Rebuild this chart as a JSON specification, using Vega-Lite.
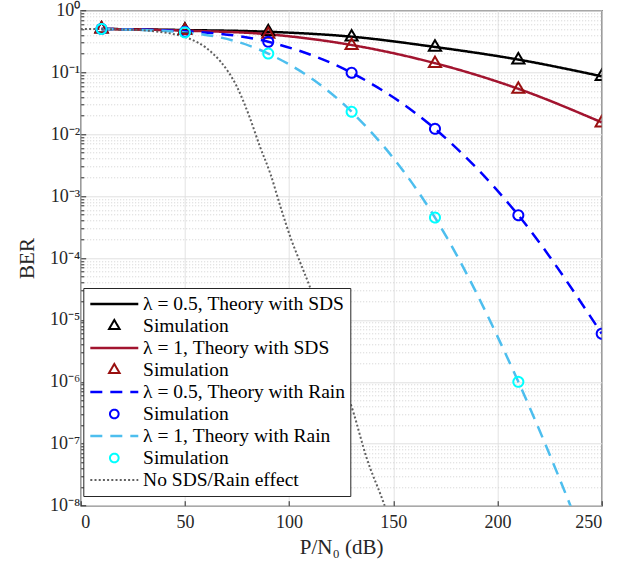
{
  "$schema": "https://vega.github.io/schema/vega-lite/v6.json",
  "width": 521,
  "height": 495.4,
  "autosize": {"type": "none"},
  "padding": {"left": 80.7, "top": 10.3, "right": 31.3, "bottom": 59.3},
  "background": "white",
  "config": {
    "view": {"stroke": "#262626", "strokeWidth": 1.2},
    "font": "Liberation Serif",
    "axis": {
      "labelFont": "Liberation Serif",
      "labelFontSize": 18,
      "labelColor": "#262626",
      "titleFont": "Liberation Serif",
      "titleFontSize": 21,
      "titleFontWeight": "normal",
      "titleColor": "#262626",
      "domain": false,
      "tickColor": "#262626"
    },
    "legend": {
      "orient": "none",
      "legendX": 2.6,
      "legendY": 277.7,
      "fillColor": "white",
      "strokeColor": "#262626",
      "padding": 5,
      "labelFont": "Liberation Serif",
      "labelFontSize": 19.5,
      "labelColor": "#000000",
      "labelLimit": 400,
      "symbolSize": 300,
      "symbolOffset": 16,
      "labelOffset": 18.8,
      "clipHeight": 22,
      "rowPadding": 0
    }
  },
  "data": {
    "values": [
      {"s": "λ = 0.5, Theory with SDS", "kind": "theory", "x": 10, "y": 0.5},
      {"s": "λ = 0.5, Theory with SDS", "kind": "theory", "x": 50, "y": 0.48},
      {"s": "λ = 0.5, Theory with SDS", "kind": "theory", "x": 90, "y": 0.45},
      {"s": "λ = 0.5, Theory with SDS", "kind": "theory", "x": 130, "y": 0.375},
      {"s": "λ = 0.5, Theory with SDS", "kind": "theory", "x": 170, "y": 0.256},
      {"s": "λ = 0.5, Theory with SDS", "kind": "theory", "x": 210, "y": 0.16},
      {"s": "λ = 0.5, Theory with SDS", "kind": "theory", "x": 250, "y": 0.086},

      {"s": "Simulation (λ = 0.5, SDS)", "kind": "simulation", "x": 10, "y": 0.5},
      {"s": "Simulation (λ = 0.5, SDS)", "kind": "simulation", "x": 50, "y": 0.48},
      {"s": "Simulation (λ = 0.5, SDS)", "kind": "simulation", "x": 90, "y": 0.45},
      {"s": "Simulation (λ = 0.5, SDS)", "kind": "simulation", "x": 130, "y": 0.37},
      {"s": "Simulation (λ = 0.5, SDS)", "kind": "simulation", "x": 170, "y": 0.254},
      {"s": "Simulation (λ = 0.5, SDS)", "kind": "simulation", "x": 210, "y": 0.158},
      {"s": "Simulation (λ = 0.5, SDS)", "kind": "simulation", "x": 250, "y": 0.085},

      {"s": "λ = 1, Theory with SDS", "kind": "theory", "x": 10, "y": 0.5},
      {"s": "λ = 1, Theory with SDS", "kind": "theory", "x": 50, "y": 0.47},
      {"s": "λ = 1, Theory with SDS", "kind": "theory", "x": 90, "y": 0.41},
      {"s": "λ = 1, Theory with SDS", "kind": "theory", "x": 130, "y": 0.275},
      {"s": "λ = 1, Theory with SDS", "kind": "theory", "x": 170, "y": 0.14},
      {"s": "λ = 1, Theory with SDS", "kind": "theory", "x": 210, "y": 0.054},
      {"s": "λ = 1, Theory with SDS", "kind": "theory", "x": 250, "y": 0.0155},

      {"s": "Simulation (λ = 1, SDS)", "kind": "simulation", "x": 10, "y": 0.5},
      {"s": "Simulation (λ = 1, SDS)", "kind": "simulation", "x": 50, "y": 0.47},
      {"s": "Simulation (λ = 1, SDS)", "kind": "simulation", "x": 90, "y": 0.41},
      {"s": "Simulation (λ = 1, SDS)", "kind": "simulation", "x": 130, "y": 0.27},
      {"s": "Simulation (λ = 1, SDS)", "kind": "simulation", "x": 170, "y": 0.138},
      {"s": "Simulation (λ = 1, SDS)", "kind": "simulation", "x": 210, "y": 0.053},
      {"s": "Simulation (λ = 1, SDS)", "kind": "simulation", "x": 250, "y": 0.0152},

      {"s": "λ = 0.5, Theory with Rain", "kind": "theory", "x": 10, "y": 0.5},
      {"s": "λ = 0.5, Theory with Rain", "kind": "theory", "x": 50, "y": 0.46},
      {"s": "λ = 0.5, Theory with Rain", "kind": "theory", "x": 90, "y": 0.31},
      {"s": "λ = 0.5, Theory with Rain", "kind": "theory", "x": 130, "y": 0.098},
      {"s": "λ = 0.5, Theory with Rain", "kind": "theory", "x": 170, "y": 0.0122},
      {"s": "λ = 0.5, Theory with Rain", "kind": "theory", "x": 210, "y": 0.00049},
      {"s": "λ = 0.5, Theory with Rain", "kind": "theory", "x": 250, "y": 0.000006},

      {"s": "Simulation (λ = 0.5, Rain)", "kind": "simulation", "x": 10, "y": 0.5},
      {"s": "Simulation (λ = 0.5, Rain)", "kind": "simulation", "x": 50, "y": 0.45},
      {"s": "Simulation (λ = 0.5, Rain)", "kind": "simulation", "x": 90, "y": 0.31},
      {"s": "Simulation (λ = 0.5, Rain)", "kind": "simulation", "x": 130, "y": 0.098},
      {"s": "Simulation (λ = 0.5, Rain)", "kind": "simulation", "x": 170, "y": 0.0122},
      {"s": "Simulation (λ = 0.5, Rain)", "kind": "simulation", "x": 210, "y": 0.00049},
      {"s": "Simulation (λ = 0.5, Rain)", "kind": "simulation", "x": 250, "y": 0.000006},

      {"s": "λ = 1, Theory with Rain", "kind": "theory", "x": 10, "y": 0.5},
      {"s": "λ = 1, Theory with Rain", "kind": "theory", "x": 50, "y": 0.44},
      {"s": "λ = 1, Theory with Rain", "kind": "theory", "x": 90, "y": 0.2},
      {"s": "λ = 1, Theory with Rain", "kind": "theory", "x": 130, "y": 0.023},
      {"s": "λ = 1, Theory with Rain", "kind": "theory", "x": 170, "y": 0.00045},
      {"s": "λ = 1, Theory with Rain", "kind": "theory", "x": 210, "y": 0.000001},
      {"s": "λ = 1, Theory with Rain", "kind": "theory", "x": 235, "y": 0.00000001},
      {"s": "λ = 1, Theory with Rain", "kind": "theory", "x": 250, "y": 0.0000000005},

      {"s": "Simulation (λ = 1, Rain)", "kind": "simulation", "x": 10, "y": 0.5},
      {"s": "Simulation (λ = 1, Rain)", "kind": "simulation", "x": 50, "y": 0.44},
      {"s": "Simulation (λ = 1, Rain)", "kind": "simulation", "x": 90, "y": 0.2},
      {"s": "Simulation (λ = 1, Rain)", "kind": "simulation", "x": 130, "y": 0.023},
      {"s": "Simulation (λ = 1, Rain)", "kind": "simulation", "x": 170, "y": 0.00045},
      {"s": "Simulation (λ = 1, Rain)", "kind": "simulation", "x": 210, "y": 0.000001},

      {"s": "No SDS/Rain effect", "kind": "theory", "x": 0, "y": 0.5},
      {"s": "No SDS/Rain effect", "kind": "theory", "x": 20, "y": 0.49},
      {"s": "No SDS/Rain effect", "kind": "theory", "x": 35, "y": 0.46},
      {"s": "No SDS/Rain effect", "kind": "theory", "x": 45, "y": 0.41},
      {"s": "No SDS/Rain effect", "kind": "theory", "x": 52, "y": 0.35},
      {"s": "No SDS/Rain effect", "kind": "theory", "x": 60, "y": 0.25},
      {"s": "No SDS/Rain effect", "kind": "theory", "x": 67, "y": 0.15},
      {"s": "No SDS/Rain effect", "kind": "theory", "x": 75, "y": 0.058},
      {"s": "No SDS/Rain effect", "kind": "theory", "x": 81, "y": 0.019},
      {"s": "No SDS/Rain effect", "kind": "theory", "x": 86, "y": 0.0063},
      {"s": "No SDS/Rain effect", "kind": "theory", "x": 91, "y": 0.0023},
      {"s": "No SDS/Rain effect", "kind": "theory", "x": 96, "y": 0.00065},
      {"s": "No SDS/Rain effect", "kind": "theory", "x": 101, "y": 0.0002},
      {"s": "No SDS/Rain effect", "kind": "theory", "x": 105, "y": 0.00009},
      {"s": "No SDS/Rain effect", "kind": "theory", "x": 110, "y": 0.000034},
      {"s": "No SDS/Rain effect", "kind": "theory", "x": 120, "y": 0.0000035},
      {"s": "No SDS/Rain effect", "kind": "theory", "x": 131, "y": 0.00000031},
      {"s": "No SDS/Rain effect", "kind": "theory", "x": 137, "y": 0.000000062},
      {"s": "No SDS/Rain effect", "kind": "theory", "x": 145, "y": 0.000000012},
      {"s": "No SDS/Rain effect", "kind": "theory", "x": 150, "y": 0.000000004}
    ]
  },
  "encoding": {
    "x": {
      "field": "x",
      "type": "quantitative",
      "scale": {"domain": [0, 250], "nice": false, "zero": false},
      "axis": {
        "title": "P/N₀ (dB)",
        "values": [0, 50, 100, 150, 200, 250],
        "grid": true,
        "gridColor": "#e3e3e3",
        "ticks": true,
        "tickSize": -5,
        "labelPadding": 13,
        "titlePadding": 5
      }
    },
    "y": {
      "field": "y",
      "type": "quantitative",
      "scale": {"type": "log", "domain": [1e-8, 1], "nice": false},
      "axis": {
        "title": "BER",
        "values": [
          1e-8, 2e-8, 3e-8, 4e-8, 5e-8, 6e-8, 7e-8, 8e-8, 9e-8,
          1e-7, 2e-7, 3e-7, 4e-7, 5e-7, 6e-7, 7e-7, 8e-7, 9e-7,
          1e-6, 2e-6, 3e-6, 4e-6, 5e-6, 6e-6, 7e-6, 8e-6, 9e-6,
          1e-5, 2e-5, 3e-5, 4e-5, 5e-5, 6e-5, 7e-5, 8e-5, 9e-5,
          1e-4, 2e-4, 3e-4, 4e-4, 5e-4, 6e-4, 7e-4, 8e-4, 9e-4,
          1e-3, 2e-3, 3e-3, 4e-3, 5e-3, 6e-3, 7e-3, 8e-3, 9e-3,
          1e-2, 2e-2, 3e-2, 4e-2, 5e-2, 6e-2, 7e-2, 8e-2, 9e-2,
          1e-1, 2e-1, 3e-1, 4e-1, 5e-1, 6e-1, 7e-1, 8e-1, 9e-1,
          1
        ],
        "labelOverlap": false,
        "labelExpr": "abs(log(datum.value)/LN10 - round(log(datum.value)/LN10)) < 0.001 ? '10' + (round(log(datum.value)/LN10) < 0 ? '⁻' : '') + substring('⁰¹²³⁴⁵⁶⁷⁸⁹', abs(round(log(datum.value)/LN10)), abs(round(log(datum.value)/LN10)) + 1) : ''",
        "grid": true,
        "gridColor": {"condition": {"test": "abs(log(datum.value)/LN10 - round(log(datum.value)/LN10)) < 0.001", "value": "#e0e0e0"}, "value": "#cfcfcf"},
        "gridDash": {"condition": {"test": "abs(log(datum.value)/LN10 - round(log(datum.value)/LN10)) < 0.001", "value": []}, "value": [1, 2]},
        "ticks": true,
        "tickSize": {"condition": {"test": "abs(log(datum.value)/LN10 - round(log(datum.value)/LN10)) < 0.001", "value": -5}, "value": -3},
        "labelPadding": 6,
        "titlePadding": 12
      }
    }
  },
  "resolve": {
    "legend": {"color": "independent", "strokeDash": "independent", "strokeWidth": "independent", "shape": "independent"}
  },
  "layer": [
    {
      "transform": [{"filter": "datum.kind == 'theory'"}],
      "mark": {"type": "line", "interpolate": "monotone", "clip": true},
      "encoding": {
        "color": {
          "field": "s", "type": "nominal", "legend": null,
          "scale": {
            "domain": ["λ = 0.5, Theory with SDS", "Simulation (λ = 0.5, SDS)", "λ = 1, Theory with SDS", "Simulation (λ = 1, SDS)", "λ = 0.5, Theory with Rain", "Simulation (λ = 0.5, Rain)", "λ = 1, Theory with Rain", "Simulation (λ = 1, Rain)", "No SDS/Rain effect"],
            "range": ["#000000", "#000000", "#a2142f", "#990f0f", "#0000ff", "#0000ff", "#4dbeee", "#00ffff", "#606060"]
          }
        },
        "strokeDash": {
          "field": "s", "type": "nominal", "legend": null,
          "scale": {
            "domain": ["λ = 0.5, Theory with SDS", "Simulation (λ = 0.5, SDS)", "λ = 1, Theory with SDS", "Simulation (λ = 1, SDS)", "λ = 0.5, Theory with Rain", "Simulation (λ = 0.5, Rain)", "λ = 1, Theory with Rain", "Simulation (λ = 1, Rain)", "No SDS/Rain effect"],
            "range": [[1, 0], [1, 0], [1, 0], [1, 0], [12, 8], [1, 0], [12, 8], [1, 0], [2, 2.2]]
          }
        },
        "strokeWidth": {
          "field": "s", "type": "nominal", "legend": null,
          "scale": {
            "type": "ordinal",
            "domain": ["λ = 0.5, Theory with SDS", "Simulation (λ = 0.5, SDS)", "λ = 1, Theory with SDS", "Simulation (λ = 1, SDS)", "λ = 0.5, Theory with Rain", "Simulation (λ = 0.5, Rain)", "λ = 1, Theory with Rain", "Simulation (λ = 1, Rain)", "No SDS/Rain effect"],
            "range": [2.5, 2, 2.5, 2, 2.5, 2, 2.5, 2, 2]
          }
        }
      }
    },
    {
      "transform": [{"filter": "datum.kind == 'simulation'"}],
      "mark": {"type": "point", "filled": false, "size": 400, "opacity": 1, "clip": true},
      "encoding": {
        "color": {
          "field": "s", "type": "nominal",
          "legend": {"title": null, "labelExpr": "indexof(datum.label, 'Simulation') == 0 ? 'Simulation' : datum.label"},
          "scale": {
            "domain": ["λ = 0.5, Theory with SDS", "Simulation (λ = 0.5, SDS)", "λ = 1, Theory with SDS", "Simulation (λ = 1, SDS)", "λ = 0.5, Theory with Rain", "Simulation (λ = 0.5, Rain)", "λ = 1, Theory with Rain", "Simulation (λ = 1, Rain)", "No SDS/Rain effect"],
            "range": ["#000000", "#000000", "#a2142f", "#990f0f", "#0000ff", "#0000ff", "#4dbeee", "#00ffff", "#606060"]
          }
        },
        "shape": {
          "field": "s", "type": "nominal",
          "legend": {"title": null, "labelExpr": "indexof(datum.label, 'Simulation') == 0 ? 'Simulation' : datum.label"},
          "scale": {
            "domain": ["λ = 0.5, Theory with SDS", "Simulation (λ = 0.5, SDS)", "λ = 1, Theory with SDS", "Simulation (λ = 1, SDS)", "λ = 0.5, Theory with Rain", "Simulation (λ = 0.5, Rain)", "λ = 1, Theory with Rain", "Simulation (λ = 1, Rain)", "No SDS/Rain effect"],
            "range": [
              "M-2.77,0H2.77",
              "M0,-0.7L0.61,0.35L-0.61,0.35Z",
              "M-2.77,0H2.77",
              "M0,-0.7L0.61,0.35L-0.61,0.35Z",
              "M-2.77,0H2.77",
              "M0.5,0A0.5,0.5 0 1,1 -0.5,0A0.5,0.5 0 1,1 0.5,0Z",
              "M-2.77,0H2.77",
              "M0.5,0A0.5,0.5 0 1,1 -0.5,0A0.5,0.5 0 1,1 0.5,0Z",
              "M-2.77,0H2.77"
            ]
          }
        },
        "strokeDash": {
          "field": "s", "type": "nominal",
          "legend": {"title": null, "labelExpr": "indexof(datum.label, 'Simulation') == 0 ? 'Simulation' : datum.label"},
          "scale": {
            "domain": ["λ = 0.5, Theory with SDS", "Simulation (λ = 0.5, SDS)", "λ = 1, Theory with SDS", "Simulation (λ = 1, SDS)", "λ = 0.5, Theory with Rain", "Simulation (λ = 0.5, Rain)", "λ = 1, Theory with Rain", "Simulation (λ = 1, Rain)", "No SDS/Rain effect"],
            "range": [[1, 0], [1, 0], [1, 0], [1, 0], [12, 8], [1, 0], [12, 8], [1, 0], [2, 2.2]]
          }
        },
        "strokeWidth": {
          "field": "s", "type": "nominal",
          "legend": {"title": null, "labelExpr": "indexof(datum.label, 'Simulation') == 0 ? 'Simulation' : datum.label"},
          "scale": {
            "type": "ordinal",
            "domain": ["λ = 0.5, Theory with SDS", "Simulation (λ = 0.5, SDS)", "λ = 1, Theory with SDS", "Simulation (λ = 1, SDS)", "λ = 0.5, Theory with Rain", "Simulation (λ = 0.5, Rain)", "λ = 1, Theory with Rain", "Simulation (λ = 1, Rain)", "No SDS/Rain effect"],
            "range": [2.5, 2, 2.5, 2, 2.5, 2, 2.5, 2, 2]
          }
        }
      }
    }
  ]
}
